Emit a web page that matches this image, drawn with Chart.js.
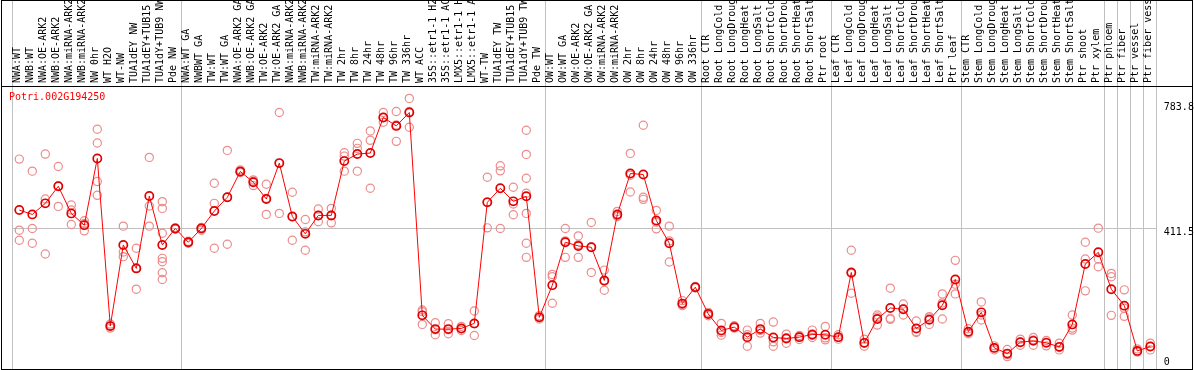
<!DOCTYPE html>
<html>
<head>
<meta charset="utf-8">
<script src="https://cdn.jsdelivr.net/npm/chart.js@4/dist/chart.umd.min.js"></script>
<style>
  html, body { margin: 0; padding: 0; background: #fff; }
  canvas { display: block; }
</style>
</head>
<body>
<canvas id="chart" width="1194" height="370"></canvas>
<script>
const geneId = 'Potri.002G194250'

const samples = [
  'NWA:WT', 'NWB:WT', 'NWA:OE-ARK2', 'NWB:OE-ARK2', 'NWA:miRNA-ARK2', 'NWB:miRNA-ARK2',
  'NW 0hr', 'WT H2O', 'WT-NW', 'TUA1dEY NW', 'TUA1dEY+TUB15 NW', 'TUA1dY+TUB9 NW', 'Pde NW',
  'NWA:WT GA', 'NWBWT GA', 'TW:WT', 'TW:WT GA', 'NWA:OE-ARK2 GA', 'NWB:OE-ARK2 GA',
  'TW:OE-ARK2', 'TW:OE-ARK2 GA', 'NWA:miRNA-ARK2', 'NWB:miRNA-ARK2', 'TW:miRNA-ARK2', 'TW:miRNA-ARK2',
  'TW 2hr', 'TW 8hr', 'TW 24hr', 'TW 48hr', 'TW 96hr', 'TW 336hr',
  'WT ACC', '35S::etr1-1 H2O', '35S::etr1-1 ACC', 'LMX5::etr1-1 H2O', 'LMX5::etr1-1 ACC',
  'WT-TW', 'TUA1dEY TW', 'TUA1dEY+TUB15 TW', 'TUA1dY+TUB9 TW', 'Pde TW',
  'OW:WT', 'OW:WT GA', 'OW:OE-ARK2', 'OW:OE-ARK2 GA', 'OW:miRNA-ARK2', 'OW:miRNA-ARK2',
  'OW 2hr', 'OW 8hr', 'OW 24hr', 'OW 48hr', 'OW 96hr', 'OW 336hr',
  'Root CTR', 'Root LongCold', 'Root LongDrought', 'Root LongHeat', 'Root LongSalt',
  'Root ShortCold', 'Root ShortDrought', 'Root ShortHeat', 'Root ShortSalt', 'Ptr root',
  'Leaf CTR', 'Leaf LongCold', 'Leaf LongDrought', 'Leaf LongHeat', 'Leaf LongSalt',
  'Leaf ShortCold', 'Leaf ShortDrought', 'Leaf ShortHeat', 'Leaf ShortSalt', 'Ptr leaf',
  'Stem CTR', 'Stem LongCold', 'Stem LongDrought', 'Stem LongHeat', 'Stem LongSalt',
  'Stem ShortCold', 'Stem ShortDrought', 'Stem ShortHeat', 'Stem ShortSalt', 'Ptr shoot',
  'Ptr xylem', 'Ptr phloem', 'Ptr fiber', 'Ptr vessel', 'Ptr fiber vessel'
]

const means = [
  465, 452, 485, 536, 455, 420, 619, 119, 361, 291, 507, 361, 410,
  369, 410, 462, 503, 580, 548, 498, 605, 446, 394, 449, 449,
  611, 632, 635, 741, 716, 756,
  151, 110, 110, 112, 127, 488, 530, 491, 506, 145,
  241, 369, 358, 354, 255, 452, 574, 571, 434, 366, 186, 235,
  155, 106, 116, 86, 110, 85, 82, 86, 94, 93,
  86, 279, 69, 140, 173, 169, 112, 138, 181, 258,
  102, 160, 54, 37, 71, 75, 69, 57, 124, 304,
  339, 229, 180, 45, 58
]

const replicates = [
  [617, 405, 375], [581, 410, 366], [632, 498, 334], [595, 476, 537], [480, 465, 422],
  [433, 403, 425], [706, 665, 550, 509], [125, 113, 119], [417, 340, 326], [351, 229, 293],
  [622, 477, 417], [490, 470, 396, 321, 311, 278, 258], [412, 408, 410],
  [372, 366, 369], [412, 405, 413], [545, 485, 351], [643, 363, 503], [585, 577, 578],
  [555, 538, 551], [542, 452, 500], [756, 455, 604], [518, 375, 445], [437, 345, 400],
  [468, 430, 449], [470, 427, 450],
  [636, 626, 581], [664, 649, 581], [701, 673, 530], [756, 727, 741], [759, 670, 719], [798, 712, 759],
  [167, 124, 162], [129, 93, 108], [126, 96, 108], [118, 106, 112], [164, 91, 126],
  [563, 412, 489], [597, 582, 410], [533, 483, 451], [703, 631, 560, 515, 455, 366, 324], [150, 140, 145],
  [273, 266, 187], [410, 324, 373], [388, 324, 362], [428, 279, 355], [286, 226, 253], [461, 446, 449],
  [634, 519, 569], [718, 503, 497], [464, 409, 429], [417, 373, 310], [195, 180, 183], [233, 237, 235],
  [160, 150, 155], [127, 92, 100], [120, 113, 116], [107, 59, 93], [127, 98, 106],
  [131, 72, 59], [95, 68, 84], [91, 79, 88], [107, 85, 91], [118, 78, 84],
  [93, 80, 86], [345, 217, 276], [80, 59, 68], [152, 122, 146], [232, 142, 139],
  [185, 152, 170], [134, 100, 102], [147, 124, 143], [215, 140, 188], [315, 215, 244],
  [111, 96, 99], [191, 137, 152], [60, 48, 54], [49, 28, 34], [80, 62, 71],
  [85, 62, 78], [76, 60, 71], [68, 48, 55], [152, 107, 113], [369, 319, 224],
  [411, 319, 296], [276, 266, 151], [227, 172, 148], [51, 42, 42], [68, 48, 58]
]

const yTicks = [0, 411.5, 783.8]

// gray separators sit on the left edge of these sample indexes
const groupStarts = [0, 13, 41, 53, 63, 73, 84, 85, 86, 87, 88]

const mono = 'DejaVu Sans Mono'
const gray = '#c0c0c0'
const repColor = 'rgb(236,140,140)'

const maxReps = Math.max(...replicates.map(r => r.length))
const repDatasets = []
for (let k = 0; k < maxReps; k++) {
  repDatasets.push({
    data: replicates.map(r => (r[k] === undefined ? null : r[k])),
    showLine: false,
    pointStyle: 'circle',
    pointRadius: 4.1,
    pointBorderWidth: 1.2,
    pointBorderColor: repColor,
    pointBackgroundColor: 'rgba(0,0,0,0)',
    order: 1
  })
}

const frame = {
  id: 'frame',
  afterDraw(chart) {
    const { ctx, chartArea } = chart
    ctx.save()
    ctx.strokeStyle = '#000'
    ctx.lineWidth = 1
    ctx.strokeRect(1.5, 0.5, 1191, 369)
    ctx.beginPath()
    ctx.moveTo(1, Math.round(chartArea.top) + 0.5)
    ctx.lineTo(1193, Math.round(chartArea.top) + 0.5)
    ctx.stroke()
    ctx.fillStyle = '#ff0000'
    ctx.font = '10px "' + mono + '"'
    ctx.textBaseline = 'middle'
    ctx.fillText(geneId, 9, 97)
    ctx.restore()
  }
}

function noPadding(scale) {
  scale.paddingTop = 0
  scale.paddingBottom = 0
  scale.paddingLeft = 0
  scale.paddingRight = 0
}

new Chart(document.getElementById('chart'), {
  type: 'line',
  data: {
    labels: samples,
    datasets: [
      ...repDatasets,
      {
        data: means,
        borderColor: '#ff0000',
        borderWidth: 1,
        tension: 0,
        pointStyle: 'circle',
        pointRadius: 4.1,
        pointBorderWidth: 1.7,
        pointBorderColor: '#e00000',
        pointBackgroundColor: 'rgba(0,0,0,0)',
        order: 0
      }
    ]
  },
  options: {
    responsive: false,
    animation: false,
    devicePixelRatio: 1,
    layout: { autoPadding: false, padding: { left: 12.8, right: 0, top: 0, bottom: 1 } },
    plugins: {
      legend: { display: false },
      tooltip: { enabled: false }
    },
    scales: {
      x: {
        position: 'top',
        offset: true,
        grid: {
          offset: true,
          tickLength: 86,
          lineWidth: 1,
          color: (ctx) => (ctx.index === undefined || groupStarts.includes(ctx.index)) ? gray : 'rgba(0,0,0,0)'
        },
        border: { display: false },
        ticks: {
          autoSkip: false,
          minRotation: 90,
          maxRotation: 90,
          padding: -83,
          color: '#000',
          font: { family: mono, size: 10, lineHeight: 0.2 }
        },
        afterFit: (scale) => {
          scale.height = 86
          noPadding(scale)
        }
      },
      y: {
        position: 'right',
        min: -9,
        max: 835,
        afterBuildTicks: (scale) => { scale.ticks = yTicks.map(v => ({ value: v })) },
        afterFit: (scale) => {
          scale.width = 37.2
          noPadding(scale)
        },
        grid: {
          drawTicks: false,
          color: (ctx) => (ctx.tick && ctx.tick.value === 411.5) ? gray : 'rgba(0,0,0,0)'
        },
        border: { display: false },
        ticks: {
          padding: 7,
          color: '#000',
          font: { family: mono, size: 10, lineHeight: 0.8 },
          // nudge labels like the original: 0 sits above its line, the others below
          callback: (v) => (v === 0 ? ['0', ''] : ['', String(v)])
        }
      }
    }
  },
  plugins: [frame]
})
</script>
</body>
</html>
